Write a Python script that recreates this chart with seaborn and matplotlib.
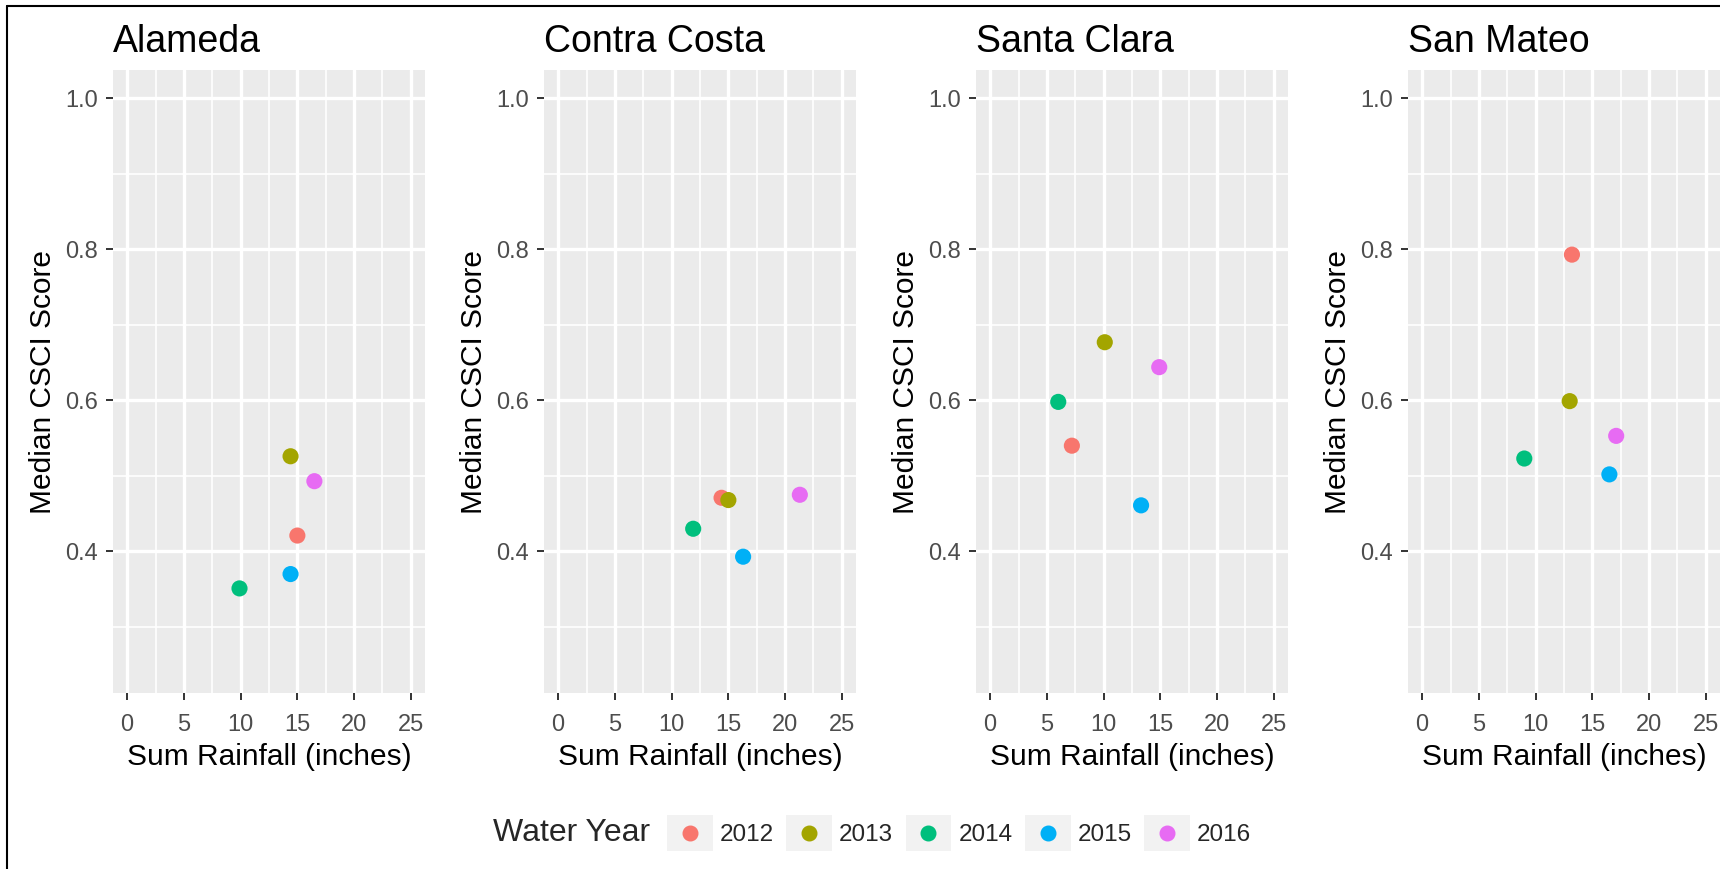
import pandas as pd
import matplotlib.pyplot as plt
import seaborn as sns
from matplotlib.lines import Line2D
from matplotlib.patches import Rectangle
from matplotlib.legend_handler import HandlerBase

# Data
counties = ['Alameda', 'Contra Costa', 'Santa Clara', 'San Mateo']
years = [2012, 2013, 2014, 2015, 2016]
colors = ['#F8766D', '#A3A500', '#00BF7D', '#00B0F6', '#E76BF3']

rain_alameda = [15.0, 14.4, 9.9, 14.4, 16.5]
csci_alameda = [0.421, 0.526, 0.351, 0.370, 0.493]
rain_contra = [14.4, 15.0, 11.9, 16.3, 21.3]
csci_contra = [0.471, 0.468, 0.430, 0.393, 0.475]
rain_clara = [7.2, 10.1, 6.0, 13.3, 14.9]
csci_clara = [0.540, 0.677, 0.598, 0.461, 0.644]
rain_mateo = [13.2, 13.0, 9.0, 16.5, 17.1]
csci_mateo = [0.793, 0.599, 0.523, 0.502, 0.553]

x_ticks = [0, 5, 10, 15, 20, 25]
y_ticks = [0.4, 0.6, 0.8, 1.0]
y_tick_labels = ['0.4', '0.6', '0.8', '1.0']

rain = [rain_alameda, rain_contra, rain_clara, rain_mateo]
csci = [csci_alameda, csci_contra, csci_clara, csci_mateo]
frames = []
for c, r, s in zip(counties, rain, csci):
    frames.append(pd.DataFrame({'County': c, 'Year': years, 'Rain': r, 'CSCI': s}))
df = pd.concat(frames, ignore_index=True)

sns.set_theme(style='darkgrid')
plt.rcParams['font.family'] = ['Liberation Sans', 'DejaVu Sans']

W, H = 1720, 869
fig = plt.figure(figsize=(W / 100, H / 100), dpi=100)
palette = dict(zip(years, colors))

lefts = [113, 544, 976, 1408]
for county, left in zip(counties, lefts):
    ax = fig.add_axes([left / W, (H - 693) / H, 312 / W, 623 / H])
    ax.set_facecolor('#EBEBEB')
    sub = df[df['County'] == county]
    sns.scatterplot(data=sub, x='Rain', y='CSCI', hue='Year', palette=palette,
                    s=135, edgecolor='none', legend=False, ax=ax, zorder=3)
    ax.set_xlim(-1.25, 26.25)
    ax.set_ylim(0.2125, 1.0375)
    ax.set_xticks(x_ticks)
    ax.set_xticklabels([str(t) for t in x_ticks])
    ax.set_yticks(y_ticks)
    ax.set_yticklabels(y_tick_labels)
    ax.set_xticks([2.5, 7.5, 12.5, 17.5, 22.5], minor=True)
    ax.set_yticks([0.3, 0.5, 0.7, 0.9], minor=True)
    ax.set_axisbelow(True)
    ax.grid(which='major', color='white', linewidth=2.4)
    ax.grid(which='minor', color='white', linewidth=1.2)
    for sp in ax.spines.values():
        sp.set_visible(False)
    ax.tick_params(which='major', length=5, width=1.4, color='#333333',
                   labelcolor='#4D4D4D', labelsize=17, bottom=True, left=True)
    ax.tick_params(axis='x', which='major', pad=10)
    ax.tick_params(axis='y', which='major', pad=6)
    ax.tick_params(which='minor', length=0)
    ax.set_xlabel('Sum Rainfall (inches)', fontsize=21.5, color='black', labelpad=5)
    ax.set_ylabel('Median CSCI Score', fontsize=21.5, color='black', labelpad=6)
    ax.set_title(county, loc='left', fontsize=27, pad=13, color='black')


class KeyHandler(HandlerBase):
    def create_artists(self, legend, orig_handle, xdescent, ydescent,
                       width, height, fontsize, trans):
        bg = Rectangle((-xdescent, -ydescent), width, height,
                       facecolor='#F2F2F2', edgecolor='none', transform=trans)
        dot = Line2D([width / 2 - xdescent], [height / 2 - ydescent], marker='o',
                     markersize=10.5, color=orig_handle.get_color(),
                     linestyle='none', transform=trans)
        return [bg, dot]


handles = [Line2D([], [], marker='o', color=c, linestyle='none') for c in colors]
fig.text(493 / W, (H - 833) / H, 'Water Year', fontsize=23, ha='left', va='center')
fig.legend(handles, [str(y) for y in years], loc='center left',
           bbox_to_anchor=(667 / W, (H - 833) / H), ncol=5, frameon=False,
           fontsize=17.5, handlelength=1.89, handleheight=1.85, handletextpad=0.29,
           columnspacing=0.5, borderpad=0, borderaxespad=0,
           handler_map={Line2D: KeyHandler()})

# frame of the original screenshot
fig.add_artist(Line2D([7 / W, 1], [1 - 6 / H, 1 - 6 / H], transform=fig.transFigure,
                      color='black', linewidth=1.5))
fig.add_artist(Line2D([7 / W, 7 / W], [0, 1 - 6 / H], transform=fig.transFigure,
                      color='black', linewidth=1.5))

fig.savefig('out.png', dpi=100)
